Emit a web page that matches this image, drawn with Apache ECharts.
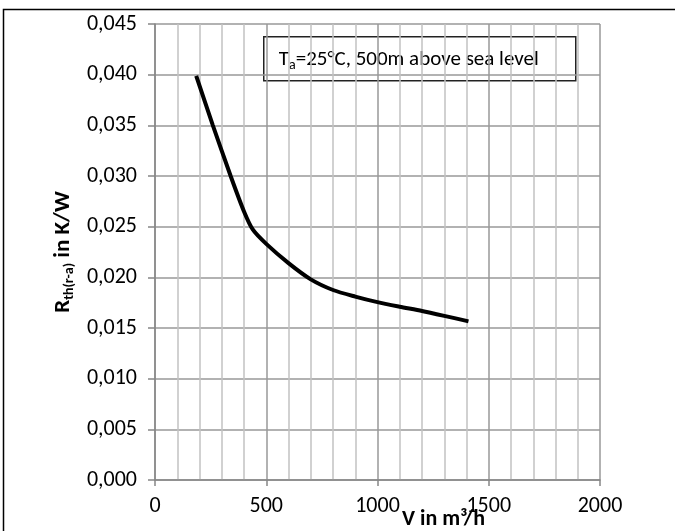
<!DOCTYPE html>
<html>
<head>
<meta charset="utf-8">
<script src="https://cdn.jsdelivr.net/npm/echarts@6/dist/echarts.min.js"></script>
<style>
html,body{margin:0;padding:0;background:#fff;}
#c{width:675px;height:531px;}
</style>
</head>
<body>
<div id="c"></div>
<script>
// Airflow V in m³/h
const flowValues = [188, 260, 340, 400, 440, 500, 600, 700, 800, 900, 1000, 1100, 1200, 1300, 1400];
// Thermal resistance Rth(r-a) in K/W
const rthValues = [0.0397, 0.0350, 0.0300, 0.0265, 0.0247, 0.0233, 0.0214, 0.0198, 0.01875, 0.0181, 0.01755, 0.0171, 0.01668, 0.0162, 0.0157];
const xTicks = [0, 500, 1000, 1500, 2000];
const yTicks = [0, 0.005, 0.010, 0.015, 0.020, 0.025, 0.030, 0.035, 0.040, 0.045];

const FONT = 'Carlito, Lato, sans-serif';
const chart = echarts.init(document.getElementById('c'), null, {renderer: 'canvas'});
const data = flowValues.map((v, i) => [v, rthValues[i]]);

chart.setOption({
  animation: false,
  backgroundColor: '#fff',
  grid: {left: 155, right: 75, top: 24, bottom: 51, containLabel: false},
  xAxis: {
    type: 'value',
    min: xTicks[0], max: xTicks[xTicks.length - 1], interval: 500,
    axisLine: {show: true, onZero: false, lineStyle: {color: '#868686', width: 1.5}},
    axisTick: {show: true, length: 6, lineStyle: {color: '#868686', width: 1.5}},
    axisLabel: {color: '#000', fontFamily: FONT, fontSize: 22, margin: 15,
      formatter: v => String(v)},
    splitLine: {show: true, lineStyle: {color: '#999', width: 1.5}},
    minorTick: {show: false, splitNumber: 5},
    minorSplitLine: {show: true, lineStyle: {color: '#c2c2c2', width: 1.5}}
  },
  yAxis: {
    type: 'value',
    min: yTicks[0], max: yTicks[yTicks.length - 1], interval: 0.005,
    name: '{b|R}{s|th(r-a)}{b| in K/W}',
    nameLocation: 'middle', nameRotate: 90, nameGap: 72,
    nameTextStyle: {
      rich: {
        b: {fontFamily: FONT, fontSize: 23, fontWeight: 'bold', color: '#000'},
        s: {fontFamily: FONT, fontSize: 14, fontWeight: 'bold', color: '#000', padding: [11, 0, 0, 0]}
      }
    },
    axisLine: {show: true, lineStyle: {color: '#868686', width: 1.5}},
    axisTick: {show: true, length: 7, lineStyle: {color: '#868686', width: 1.5}},
    axisLabel: {color: '#000', fontFamily: FONT, fontSize: 22, margin: 18,
      formatter: v => v.toFixed(3).replace('.', ',')},
    splitLine: {show: true, lineStyle: {color: '#999', width: 1.5}}
  },
  series: [{
    type: 'line',
    data: data,
    smooth: 0.25,
    showSymbol: false,
    lineStyle: {color: '#000', width: 4, cap: 'square'},
    z: 5
  }],
  graphic: [
    {type: 'rect', left: 1, top: 7, shape: {width: 800, height: 700},
     style: {fill: 'none', stroke: '#000', lineWidth: 1.5}, silent: true, z: 0},
    {type: 'group', left: 263, top: 36, z: 10, children: [
      {type: 'rect', shape: {x: 0, y: 0, width: 312, height: 44},
       style: {fill: '#fff', stroke: '#222', lineWidth: 1.5}},
      {type: 'text', x: 15, y: 23,
       style: {text: '{n|T}{s|a}{n|=25°C, 500m above sea level}', verticalAlign: 'middle',
         rich: {
           n: {fontFamily: FONT, fontSize: 21, fill: '#000', color: '#000'},
           s: {fontFamily: FONT, fontSize: 14, fill: '#000', color: '#000', padding: [12, 0, 0, 0]}
         }}}
    ]},
    {type: 'text', left: 402, top: 508, z: 10,
     style: {text: 'V in m³/h', fontFamily: FONT, fontSize: 22, fontWeight: 'bold', fill: '#000'}}
  ]
});
</script>
</body>
</html>
